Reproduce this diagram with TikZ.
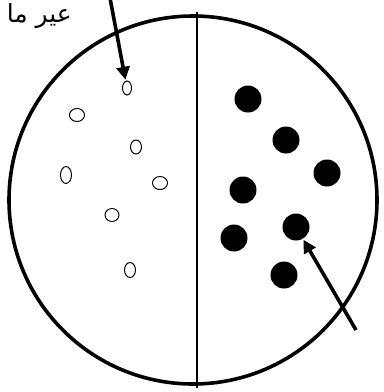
\documentclass[tikz,border=0pt]{standalone}
\usepackage{fontspec}
\newfontfamily\arabicfont[Script=Arabic]{DejaVu Sans}
\TeXXeTstate=1
\usetikzlibrary{arrows.meta, shapes.geometric}

\tikzset{
    hollow/.style={draw, ellipse, line width=1pt, inner sep=0pt},
    solid/.style={fill=black, circle, inner sep=0pt, minimum size=27bp},
    pointer/.style={line width=3.6pt, -{Triangle[length=13bp, width=13bp]}, shorten >=1bp},
}

\begin{document}
\begin{tikzpicture}[x=1bp, y=-1bp]
    % --- fix the page size ---
    \useasboundingbox (0,0) rectangle (384,392);

    % --- parameters ---
    \def\cx{193}   % centre x
    \def\cy{200}   % centre y
    \def\R{184}    % radius

    % --- big circle and divider ---
    \draw[line width=3.6pt] (\cx, \cy) circle (\R);
    \draw[line width=2.6pt] (197, 12) -- (197, 388);

    % --- hollow dots (left half) ---
    \node[hollow, minimum width=9bp, minimum height=14bp] (o1) at (127, 88) {};
    \node[hollow, minimum width=15bp, minimum height=13bp] (o2) at (77, 115) {};
    \node[hollow, minimum width=11bp, minimum height=14bp] (o3) at (136, 147) {};
    \node[hollow, minimum width=11bp, minimum height=17bp] (o4) at (66, 175) {};
    \node[hollow, minimum width=15bp, minimum height=13bp] (o5) at (160, 183) {};
    \node[hollow, minimum width=14bp, minimum height=13bp] (o6) at (112, 215) {};
    \node[hollow, minimum width=11bp, minimum height=15bp] (o7) at (130, 270) {};

    % --- solid dots (right half) ---
    \node[solid] (f1) at (248, 99) {};
    \node[solid] (f2) at (286, 140) {};
    \node[solid] (f3) at (327, 173) {};
    \node[solid] (f4) at (243, 190) {};
    \node[solid] (f5) at (234, 238) {};
    \node[solid] (f6) at (296, 227) {};
    \node[solid] (f7) at (284, 275) {};

    % --- label and arrows ---
    \node[anchor=east, inner sep=0pt, font=\arabicfont\fontsize{25}{28}\selectfont] (lbl) at (72, 16) {\beginR عير ما\endR};
    \coordinate (topTail) at (110, -2);
    \coordinate (botTail) at (356, 330);
    \draw[pointer] (topTail) -- (o1);
    \draw[pointer] (botTail) -- (f6);

\end{tikzpicture}
\end{document}
